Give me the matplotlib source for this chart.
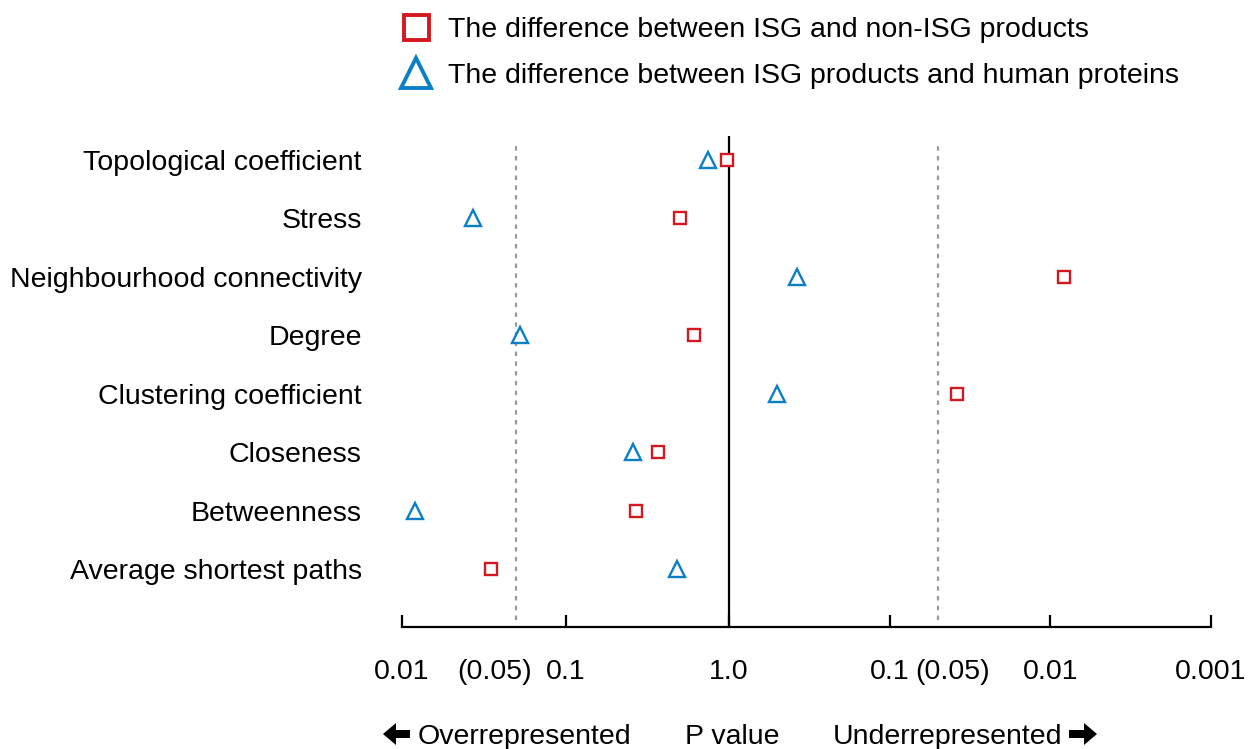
import numpy as np
import matplotlib
matplotlib.use('Agg')
import matplotlib.pyplot as plt
from matplotlib.patches import Polygon
from matplotlib.transforms import IdentityTransform
from matplotlib.lines import Line2D

plt.rcParams['font.family'] = ['Liberation Sans', 'DejaVu Sans']

# Network properties, listed bottom to top
properties = ['Average shortest paths', 'Betweenness', 'Closeness',
              'Clustering coefficient', 'Degree', 'Neighbourhood connectivity',
              'Stress', 'Topological coefficient']

# ISG vs non-ISG products: P value and direction (-1 over, +1 under)
p_isg_non = [0.035, 0.27, 0.37, 0.038, 0.61, 0.0082, 0.50, 0.97]
dir_isg_non = [-1, -1, -1, 1, -1, 1, -1, -1]

# ISG products vs human proteins
p_isg_human = [0.48, 0.012, 0.26, 0.50, 0.053, 0.38, 0.027, 0.74]
dir_isg_human = [-1, -1, -1, 1, -1, 1, -1, -1]

tick_pos = [-2, -1, 0, 1, 2, 3]
tick_labels = ['0.01', '0.1', '1.0', '0.1', '0.01', '0.001']
cutoff = 0.05

RED = '#d4181f'
BLUE = '#0a7fc6'
FS = 20.5
PAD = 23


def signed_logp(p, d):
    return np.array(d) * -np.log10(np.array(p))


x_sq = signed_logp(p_isg_non, dir_isg_non)
x_tri = signed_logp(p_isg_human, dir_isg_human)
y = np.arange(len(properties))

fig = plt.figure(figsize=(12.51, 7.49), dpi=100)
ax = fig.add_axes([402 / 1251, 1 - 627 / 749, 809 / 1251, 491 / 749])

# left decades are drawn a little wider than right ones
k = 1.018
ax.set_xscale('function', functions=(lambda v: np.where(v < 0, v * k, v),
                                     lambda v: np.where(v < 0, v / k, v)))
ax.set_xlim(-2, 3)
ax.set_ylim(-0.993, 7.41)

# reference lines: P = 1 and P = 0.05 on both sides
ax.axvline(0, color='black', lw=1.6, zorder=1)
c = -np.log10(cutoff)
for xc in (-c, c):
    ax.plot([xc, xc], [-0.87, 7.33], color='#9a9a9a', lw=1.6,
            dashes=(2, 2.4), zorder=1)

ax.plot(x_sq, y, linestyle='none', marker='s', ms=9, mfc='white',
        mec=RED, mew=1.7, zorder=3)
ax.plot(x_tri, y, linestyle='none', marker='^', ms=11.5, mfc='white',
        mec=BLUE, mew=1.7, zorder=3)

for s in ['left', 'right', 'top']:
    ax.spines[s].set_visible(False)
ax.spines['bottom'].set_linewidth(1.6)

ax.set_xticks(tick_pos)
ax.set_xticklabels(tick_labels, fontsize=FS)
ax.tick_params(axis='x', direction='in', length=9, width=1.6, pad=PAD)
ax.set_yticks(y)
ax.set_yticklabels(properties, fontsize=FS)
ax.tick_params(axis='y', length=0, pad=29)

# cutoff labels under the axis, in line with the tick labels
for xl in (-1.436, 1.39):
    ax.annotate('(0.05)', xy=(xl, 0), xycoords=('data', 'axes fraction'),
                xytext=(0, -PAD), textcoords='offset points',
                ha='center', va='top', fontsize=FS)

# bottom captions
cy = 1 - 737 / 749
fig.text(418 / 1251, cy, 'Overrepresented', ha='left', va='center', fontsize=FS)
fig.text(732 / 1251, cy, 'P value', ha='center', va='center', fontsize=FS)
fig.text(1062 / 1251, cy, 'Underrepresented', ha='right', va='center', fontsize=FS)

H = 749
yc = H - 734
left_arrow = [(383, yc), (396, yc + 11), (396, yc + 4), (410, yc + 4),
              (410, yc - 4), (396, yc - 4), (396, yc - 11)]
right_arrow = [(1097, yc), (1084, yc + 11), (1084, yc + 4), (1069, yc + 4),
               (1069, yc - 4), (1084, yc - 4), (1084, yc - 11)]
for pts in (left_arrow, right_arrow):
    fig.patches.append(Polygon(pts, closed=True, facecolor='black',
                               edgecolor='none', transform=IdentityTransform()))

# legend
handles = [Line2D([], [], linestyle='none', marker='s', ms=18, mfc='white',
                  mec=RED, mew=2.8),
           Line2D([], [], linestyle='none', marker='^', ms=21, mfc='white',
                  mec=BLUE, mew=2.8)]
fig.legend(handles,
           ['The difference between ISG and non-ISG products',
            'The difference between ISG products and human proteins'],
           loc='upper left', bbox_to_anchor=(402 / 1251, 1 - 17 / 749),
           frameon=False, fontsize=FS, handlelength=1.0, handletextpad=0.6,
           labelspacing=0.7, borderpad=0, borderaxespad=0)

fig.savefig('out.png', dpi=100)
